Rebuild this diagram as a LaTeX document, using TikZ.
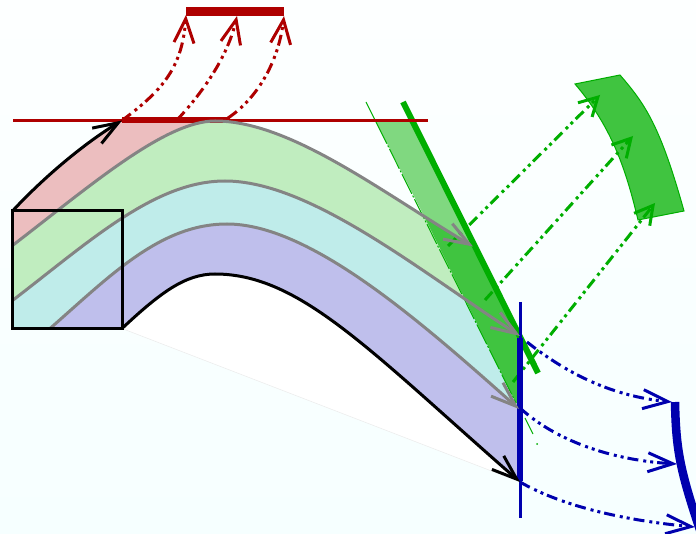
\documentclass[tikz,border=0pt]{standalone}
\usepackage{tikz}
\usetikzlibrary{arrows.meta}
\definecolor{papertop}{RGB}{253,255,255}
\definecolor{paperlow}{RGB}{246,255,255}
\definecolor{redray}{RGB}{174,0,0}
\definecolor{greenray}{RGB}{0,174,0}
\definecolor{blueray}{RGB}{0,0,174}
\definecolor{greenpatch}{RGB}{64,196,64}
\definecolor{greenlight}{RGB}{128,216,128}
\definecolor{bandred}{RGB}{236,190,191}
\definecolor{bandgreen}{RGB}{192,237,191}
\definecolor{bandcyan}{RGB}{191,236,234}
\definecolor{bandblue}{RGB}{191,191,236}
\definecolor{beamgray}{RGB}{132,132,132}
\tikzset{
	beam/.style={line width=3pt,-{Straight Barb[length=25pt,width=18pt,line width=3pt]}},
	rayline/.style={line width=3pt,dash pattern=on 11pt off 5pt on 3pt off 4pt on 3pt off 4pt},
	redtip/.style={-{Straight Barb[length=24pt,width=20pt,line width=3pt]}},
	greentip/.style={-{Straight Barb[length=18pt,width=20pt,line width=3pt]}},
	bluetip/.style={-{Straight Barb[length=25pt,width=19pt,line width=3pt]}},
}
\begin{document}
\begin{tikzpicture}[x=1pt,y=-1pt]
	\useasboundingbox (0,0) rectangle (696,534);
	\clip (0,0) rectangle (696,534);
	\shade[top color=papertop,bottom color=paperlow] (0,0) rectangle (696,534);
	% named points
	\coordinate (boxA) at (12.5,211);
	\coordinate (boxB) at (122,328.5);
	\coordinate (boxC) at (12.5,328.5);
	\coordinate (topL) at (122,120.5);
	\coordinate (topR) at (230,120.5);
	\coordinate (oneS) at (12.5,245.5);
	\coordinate (oneE) at (473,246.5);
	\coordinate (twoS) at (12.5,300.5);
	\coordinate (twoE) at (520,336);
	\coordinate (thrS) at (50,328.5);
	\coordinate (thrE) at (519,409);
	\coordinate (lowE) at (520,482);
	% empty area under the lowest ray
	\fill[white] (boxB) .. controls (160,293) and (185,274) .. (215,274)
		.. controls (300,274) and (370,351) .. (lowE) -- cycle;
	\draw[black!8,line width=0.5pt] (boxB) -- (lowE);
	% bands
	\fill[bandred] (boxA) .. controls (45,176) and (85,143) .. (topL) -- (topR)
		-- (215,121) .. controls (165,121) and (90,186) .. (oneS) -- cycle;
	\fill[bandgreen] (oneS) .. controls (90,186) and (165,121) .. (215,121)
		.. controls (290,121) and (380,191) .. (oneE) -- (twoE)
		.. controls (420,271) and (310,181) .. (225,181)
		.. controls (155,181) and (90,241) .. (twoS) -- cycle;
	\fill[bandcyan] (twoS) .. controls (90,241) and (155,181) .. (225,181)
		.. controls (310,181) and (420,271) .. (twoE) -- (thrE)
		.. controls (420,321) and (310,224) .. (227,224)
		.. controls (160,224) and (110,276) .. (thrS) -- (boxC) -- cycle;
	\fill[bandblue] (thrS) .. controls (110,276) and (160,224) .. (227,224)
		.. controls (310,224) and (420,321) .. (thrE) -- (lowE)
		.. controls (370,351) and (300,274) .. (215,274)
		.. controls (185,274) and (160,293) .. (boxB) -- cycle;
	% mirror beam
	\fill[greenlight] (375,120) -- (412,120) -- (473,246) -- (425,218) -- cycle;
	\fill[greenpatch] (425,218) -- (473,246) -- (520,338) -- (520,405) -- (516,403) -- cycle;
	\draw[greenray,line width=1pt] (366,102) -- (377,124);
	\draw[greenray,line width=1pt,dash pattern=on 22pt off 2pt on 2pt off 2pt] (377,124) -- (516,403);
	\draw[greenray,line width=1pt] (525,418) -- (533,434);
	\fill[greenray] (537,444) circle (1pt);
	\draw[greenray,line width=6pt] (403,102) -- (538,373);
	% green patch
	\filldraw[draw=greenray,fill=greenpatch,line width=1pt] (575,84) -- (620,75)
		.. controls (645,104) and (660,125) .. (684,211) -- (638,220)
		.. controls (625,165) and (610,125) .. cycle;
	% red
	\draw[redray,line width=3pt] (13,120.5) -- (428,120.5);
	\draw[redray,line width=6pt] (topL) -- (topR);
	\draw[redray,line width=9pt] (186,11.5) -- (284,11.5);
	\coordinate (redA) at (186,15);
	\coordinate (redB) at (237,16);
	\coordinate (redC) at (284,16);
	\coordinate (redD) at (177,120);
	\coordinate (redE) at (228,118);
	\draw[rayline,redtip,redray] (topL) .. controls (160,92) and (182,70) .. (redA);
	\draw[rayline,redtip,redray] (redD) .. controls (205,90) and (228,55) .. (redB);
	\draw[rayline,redtip,redray] (redE) .. controls (255,100) and (278,65) .. (redC);
	% green rays
	\coordinate (greA) at (448,246);
	\coordinate (greB) at (600,95);
	\coordinate (greC) at (485,300);
	\coordinate (greD) at (633,136);
	\coordinate (greE) at (513,382);
	\coordinate (greF) at (655,203);
	\draw[rayline,greentip,greenray] (greA) -- (greB);
	\draw[rayline,greentip,greenray] (greC) -- (greD);
	\draw[rayline,greentip,greenray] (greE) -- (greF);
	% blue
	\draw[blueray,line width=3pt] (520,302) -- (520,518);
	\draw[blueray,line width=6pt] (520,338) -- (520,481);
	\draw[blueray,line width=8.5pt] (675,402) .. controls (676,450) and (680,470) .. (700,530);
	\coordinate (bluA) at (527,342);
	\coordinate (bluB) at (672,402);
	\coordinate (bluC) at (520,408);
	\coordinate (bluD) at (677,464);
	\coordinate (bluE) at (695,527);
	\draw[rayline,bluetip,blueray] (bluA) .. controls (565,372) and (610,396) .. (bluB);
	\draw[rayline,bluetip,blueray] (bluC) .. controls (555,440) and (610,460) .. (bluD);
	\draw[rayline,bluetip,blueray] (lowE) .. controls (560,505) and (620,520) .. (bluE);
	% rays through the system
	\draw[beam,beamgray] (oneS) .. controls (90,186) and (165,121) .. (215,121)
		.. controls (290,121) and (380,191) .. (oneE);
	\draw[beam,beamgray] (twoS) .. controls (90,241) and (155,181) .. (225,181)
		.. controls (310,181) and (420,271) .. (twoE);
	\draw[beam,beamgray] (thrS) .. controls (110,276) and (160,224) .. (227,224)
		.. controls (310,224) and (420,321) .. (thrE);
	\draw[beam,black] (boxA) .. controls (45,176) and (85,143) .. (topL);
	\draw[beam,black] (boxB) .. controls (160,293) and (185,274) .. (215,274)
		.. controls (300,274) and (370,351) .. (lowE);
	\draw[black,line width=3pt] (boxA) rectangle (boxB);
\end{tikzpicture}
\end{document}
